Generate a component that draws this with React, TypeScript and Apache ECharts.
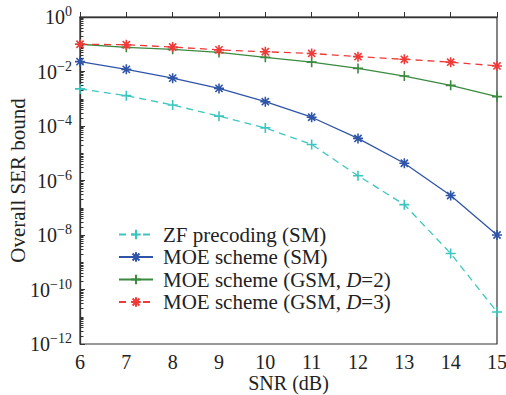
import React, { useEffect, useRef } from "react";
import * as echarts from "echarts";

const snr = [6, 7, 8, 9, 10, 11, 12, 13, 14, 15];
const zfSM = [2.3e-3, 1.3e-3, 5.9e-4, 2.3e-4, 8.5e-5, 2.1e-5, 1.5e-6, 1.3e-7, 2.1e-9, 1.5e-11];
const moeSM = [2.3e-2, 1.2e-2, 5.7e-3, 2.4e-3, 7.8e-4, 2.1e-4, 3.5e-5, 4.3e-6, 2.8e-7, 1.0e-8];
const moeGSM2 = [0.1, 0.077, 0.065, 0.05, 0.033, 0.022, 0.013, 0.0068, 0.0031, 0.0012];
const moeGSM3 = [0.1, 0.096, 0.079, 0.062, 0.053, 0.046, 0.035, 0.028, 0.022, 0.016];
const seriesNames = [
  "ZF precoding (SM)",
  "MOE scheme (SM)",
  "MOE scheme (GSM, D=2)",
  "MOE scheme (GSM, D=3)",
];
const xTicks = [6, 7, 8, 9, 10, 11, 12, 13, 14, 15];
const yExponents = [-12, -11, -10, -9, -8, -7, -6, -5, -4, -3, -2, -1];
const mantissas = [1, 2, 3, 4, 5, 6, 7, 8, 9];

const FONT = "Liberation Serif";
const PLUS = "path://M0,-1L0,1M-1,0L1,0";
const STAR = "path://M0,-1L0,1M-1,0L1,0M-0.72,-0.72L0.72,0.72M-0.72,0.72L0.72,-0.72";

export default function App() {
  const ref = useRef<HTMLDivElement>(null);
  useEffect(() => {
    if (!ref.current) return;
    const chart = echarts.init(ref.current, undefined, { renderer: "svg" });
    // minor tick positions in log10 space for the overlay axis
    const minorLog: number[] = [];
    yExponents.forEach((e) =>
      mantissas.forEach((m) => minorLog.push(e + Math.log10(m)))
    );
    const mk = (
      name: string,
      data: number[],
      color: string,
      dashed: boolean,
      symbol: string
    ) => ({
      name,
      type: "line",
      yAxisIndex: 0,
      data: snr.map((x, i) => [x, data[i]]),
      symbol,
      symbolSize: 10,
      showSymbol: true,
      lineStyle: { color, width: 1.3, type: dashed ? [7, 5] : "solid" },
      itemStyle: { color, borderColor: color, borderWidth: 1.6 },
      emphasis: { disabled: true },
    });
    chart.setOption({
      animation: false,
      backgroundColor: "#ffffff",
      textStyle: { fontFamily: FONT },
      grid: {
        left: 80,
        top: 17,
        right: 9,
        bottom: 51,
        containLabel: false,
        outerBoundsMode: "none",
        show: true,
        borderColor: "#333",
        borderWidth: 1.2,
      },
      legend: {
        orient: "vertical",
        left: 118,
        top: 224,
        padding: 0,
        itemWidth: 34,
        itemHeight: 12,
        itemGap: 1.5,
        data: seriesNames,
        formatter: (n: string) => n.replace("D=", "{i|D}="),
        textStyle: {
          fontFamily: FONT,
          fontSize: 21,
          lineHeight: 21,
          color: "#222",
          padding: [0, 0, 0, 5],
          rich: {
            i: { fontFamily: FONT, fontSize: 21, fontStyle: "italic", color: "#222" },
          },
        },
      },
      xAxis: {
        type: "value",
        min: 6,
        max: 15,
        interval: 1,
        name: "SNR (dB)",
        nameLocation: "middle",
        nameGap: 29,
        nameMoveOverlap: false,
        nameTextStyle: { fontFamily: FONT, fontSize: 20, color: "#222" },
        axisLine: { lineStyle: { color: "#333", width: 1.3 } },
        axisTick: { inside: true, length: 5, lineStyle: { color: "#333" } },
        splitLine: { show: false },
        axisLabel: {
          fontFamily: FONT,
          fontSize: 20,
          color: "#222",
          margin: 8,
          customValues: xTicks,
        },
      },
      yAxis: [
        {
          type: "log",
          logBase: 10,
          min: 1e-12,
          max: 1,
          interval: 2,
          name: "Overall SER bound",
          nameLocation: "middle",
          nameGap: 52,
          nameMoveOverlap: false,
          nameRotate: 90,
          nameTextStyle: { fontFamily: FONT, fontSize: 21, color: "#222" },
          axisLine: { show: true, lineStyle: { color: "#333", width: 1.3 } },
          axisTick: {
            show: true,
            inside: true,
            length: 5,
            lineStyle: { color: "#333" },
          },
          minorTick: { show: false },
          splitLine: { show: false },
          axisLabel: {
            margin: 8,
            color: "#222",
            formatter: (v: number) => {
              const e = Math.round(Math.log10(v));
              return `{b|10}{s|${e === 0 ? "0" : "\u2212" + -e}}`;
            },
            rich: {
              b: { fontFamily: FONT, fontSize: 20, color: "#222" },
              s: {
                fontFamily: FONT,
                fontSize: 14,
                color: "#222",
                padding: [0, 0, 11, 0],
              },
            },
          },
        },
        {
          type: "value",
          min: -12,
          max: 0,
          position: "left",
          offset: 0,
          axisLine: { show: false },
          axisLabel: { show: false },
          splitLine: { show: false },
          axisTick: {
            show: true,
            inside: true,
            length: 3.5,
            lineStyle: { color: "#333" },
            customValues: minorLog,
          },
        },
      ],
      series: [
        mk(seriesNames[0], zfSM, "#3cc6c0", true, PLUS),
        mk(seriesNames[1], moeSM, "#2f55a8", false, STAR),
        mk(seriesNames[2], moeGSM2, "#3a8a40", false, PLUS),
        mk(seriesNames[3], moeGSM3, "#f03a3a", true, STAR),
      ],
    });
    return () => chart.dispose();
  }, []);
  return (
    <div
      ref={ref}
      style={{ position: "absolute", left: 0, top: 0, width: 506, height: 395 }}
    />
  );
}
